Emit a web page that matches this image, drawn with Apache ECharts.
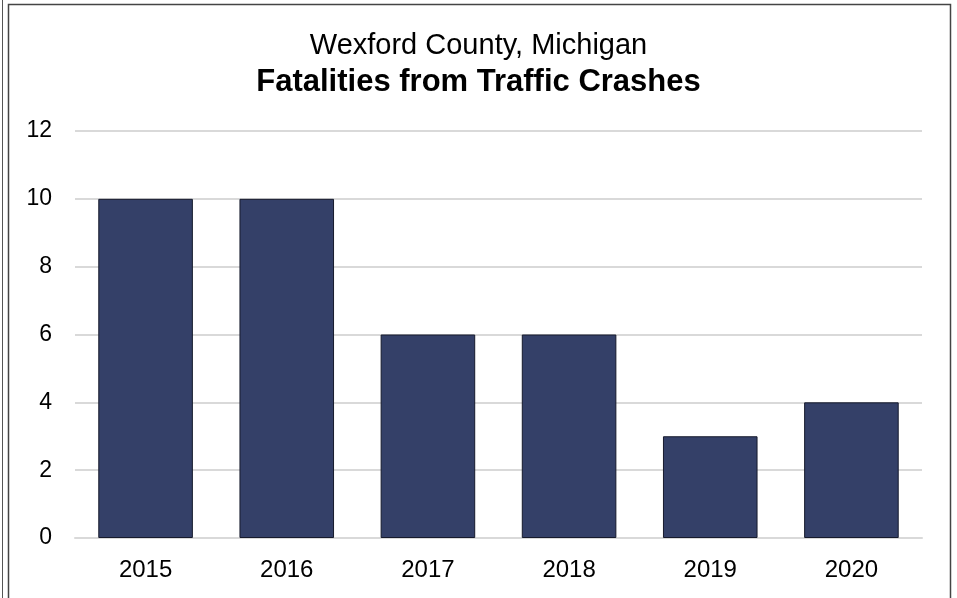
<!DOCTYPE html>
<html>
<head>
<meta charset="utf-8">
<script src="https://cdn.jsdelivr.net/npm/echarts@6/dist/echarts.min.js"></script>
<style>
  html, body { margin: 0; padding: 0; background: #fff; }
  #chart { width: 957px; height: 598px; }
</style>
</head>
<body>
<div id="chart"></div>
<script>
const years = ['2015', '2016', '2017', '2018', '2019', '2020']
const fatalities = [10, 10, 6, 6, 3, 4]
const yTicks = { min: 0, max: 12, interval: 2 }

const chart = echarts.init(document.getElementById('chart'))
const fontFamily = '"Liberation Sans", Arial, sans-serif'

chart.setOption({
  animation: false,
  textStyle: { fontFamily },
  title: [
    {
      text: 'Wexford County, Michigan',
      left: 'center',
      top: 26,
      textStyle: { fontFamily, fontSize: 29, fontWeight: 'normal', color: '#000' }
    },
    {
      text: 'Fatalities from Traffic Crashes',
      left: 'center',
      top: 62,
      textStyle: { fontFamily, fontSize: 31, fontWeight: 'bold', color: '#000' }
    }
  ],
  graphic: [
    {
      type: 'line',
      shape: { x1: 2.5, y1: 0, x2: 2.5, y2: 598 },
      style: { stroke: '#555', lineWidth: 1 }
    },
    {
      type: 'polyline',
      shape: { points: [[8.5, 598], [8.5, 4.5], [950.5, 4.5], [950.5, 598]] },
      style: { stroke: '#444', lineWidth: 1.5, fill: null }
    }
  ],
  grid: { left: 75, right: 35, top: 131, bottom: 60 },
  xAxis: {
    type: 'category',
    data: years,
    axisTick: { show: false },
    axisLine: { show: true, lineStyle: { color: '#d9d9d9', width: 2 } },
    axisLabel: { color: '#000', fontSize: 24, margin: 20, fontFamily }
  },
  yAxis: {
    type: 'value',
    min: yTicks.min,
    max: yTicks.max,
    interval: yTicks.interval,
    axisLine: { show: false },
    axisTick: { show: false },
    splitLine: { lineStyle: { color: '#d9d9d9', width: 2 } },
    axisLabel: { color: '#000', fontSize: 23, margin: 23, fontFamily }
  },
  series: [
    {
      type: 'bar',
      data: fatalities,
      barCategoryGap: '33%',
      itemStyle: { color: '#344068', borderColor: '#161a2c', borderWidth: 1 }
    }
  ]
})
</script>
</body>
</html>
